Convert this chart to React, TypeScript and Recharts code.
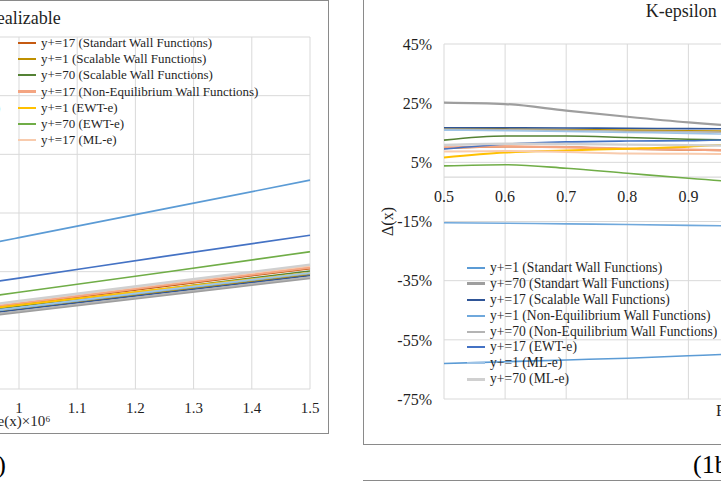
import { LineChart, Line, XAxis, YAxis, CartesianGrid, Legend, ReferenceLine } from 'recharts';

const FONT = '"Liberation Serif", "Times New Roman", serif';
const TXT = '#1f1f1f';
const GRID = '#d9d9d9';
const FRAME = '#8a8a8a';

// series, in legend order (row-major, 2 columns)
const seriesNames = [
  'y+=1 (Standart Wall Functions)',
  'y+=17 (Standart Wall Functions)',
  'y+=70 (Standart Wall Functions)',
  'y+=1 (Scalable Wall Functions)',
  'y+=17 (Scalable Wall Functions)',
  'y+=70 (Scalable Wall Functions)',
  'y+=1 (Non-Equilibrium Wall Functions)',
  'y+=17 (Non-Equilibrium Wall Functions)',
  'y+=70 (Non-Equilibrium Wall Functions)',
  'y+=1 (EWT-e)',
  'y+=17 (EWT-e)',
  'y+=70 (EWT-e)',
  'y+=1 (ML-e)',
  'y+=17 (ML-e)',
  'y+=70 (ML-e)',
];
const seriesColors = [
  '#5b9bd5', '#c55a11', '#9e9e9e',
  '#bf9000', '#2f5597', '#548235',
  '#6fa8dc', '#f4a582', '#b4b4b4',
  '#ffc000', '#4472c4', '#70ad47',
  '#9dc3e6', '#f8cbad', '#d0d0d0',
];
const seriesWidths = [1.6, 1.6, 2.2, 1.6, 1.6, 1.6, 1.6, 2.4, 1.6, 2.0, 1.6, 1.6, 1.6, 2.0, 2.4];

// left panel: Cf vs Re(x)
const cfX = [0.5, 0.75, 1.0, 1.25, 1.5];
const cfValues = [
  [1.6, 2.09, 2.58, 3.07, 3.56],
  [0.83, 1.14, 1.44, 1.75, 2.05],
  [0.73, 1.02, 1.31, 1.6, 1.89],
  [0.77, 1.07, 1.36, 1.66, 1.95],
  [0.77, 1.06, 1.35, 1.64, 1.93],
  [0.81, 1.11, 1.41, 1.71, 2.01],
  [0.79, 1.09, 1.38, 1.68, 1.97],
  [0.85, 1.16, 1.46, 1.77, 2.07],
  [0.75, 1.04, 1.33, 1.62, 1.91],
  [0.88, 1.16, 1.43, 1.71, 1.98],
  [1.16, 1.53, 1.89, 2.26, 2.62],
  [0.96, 1.3, 1.65, 1.99, 2.34],
  [0.8, 1.1, 1.39, 1.69, 1.98],
  [0.88, 1.19, 1.49, 1.8, 2.1],
  [0.88, 1.19, 1.5, 1.81, 2.12],
];
const cfXTicks = [0.5, 0.6, 0.7, 0.8, 0.9, 1, 1.1, 1.2, 1.3, 1.4, 1.5];
const cfYTicks = [0, 1, 2, 3, 4, 5, 6];

// right panel: deviation in %
const dX = [0.5, 0.6, 0.7, 0.8, 0.9, 1.0, 1.1, 1.2, 1.3, 1.4, 1.5];
const dValues = [
  [-63.0, -62.4, -61.8, -61.2, -60.4, -59.6, -58.9, -58.3, -57.8, -57.3, -56.9],
  [9.7, 10.3, 10.2, 9.5, 9.2, 8.9, 8.7, 8.5, 8.4, 8.3, 8.2],
  [25.2, 24.7, 22.5, 20.4, 18.5, 17.0, 15.8, 14.9, 14.2, 13.7, 13.3],
  [16.4, 16.3, 16.1, 15.9, 15.7, 15.4, 15.2, 15.0, 14.9, 14.8, 14.7],
  [16.7, 16.7, 16.6, 16.5, 16.4, 16.3, 16.2, 16.1, 16.0, 15.9, 15.9],
  [12.5, 13.9, 13.9, 13.4, 12.8, 12.4, 12.1, 11.9, 11.7, 11.6, 11.5],
  [-15.4, -15.6, -15.8, -16.0, -16.3, -16.6, -16.8, -17.0, -17.2, -17.3, -17.4],
  [10.0, 10.4, 10.1, 9.6, 9.3, 9.0, 8.8, 8.6, 8.5, 8.4, 8.3],
  [16.2, 16.0, 15.8, 15.5, 15.3, 15.1, 14.9, 14.7, 14.6, 14.5, 14.4],
  [6.6, 8.3, 9.0, 9.6, 10.3, 11.4, 12.0, 12.5, 12.9, 13.2, 13.4],
  [9.5, 11.1, 11.9, 12.2, 12.3, 12.8, 13.0, 13.2, 13.3, 13.4, 13.5],
  [3.8, 4.2, 3.0, 1.3, -0.4, -1.9, -3.0, -3.8, -4.4, -4.8, -5.1],
  [15.9, 15.7, 15.4, 15.1, 14.8, 14.4, 14.1, 13.9, 13.7, 13.6, 13.5],
  [8.7, 8.8, 8.5, 8.0, 7.9, 7.8, 7.7, 7.6, 7.5, 7.5, 7.4],
  [10.9, 11.3, 11.2, 11.0, 10.8, 10.6, 10.4, 10.3, 10.2, 10.1, 10.0],
];
const dYTicks = [-75, -55, -35, -15, 5, 25, 45];

const cfData = cfX.map((x, i) => {
  const row: any = { x };
  cfValues.forEach((s, k) => (row['s' + k] = s[i]));
  return row;
});
const dData = dX.map((x, i) => {
  const row: any = { x };
  dValues.forEach((s, k) => (row['s' + k] = s[i]));
  return row;
});

function TwoColLegend({ fontSize, colWidth, rowH }: { fontSize: number; colWidth: number; rowH: number }) {
  return (
    <div
      style={{
        display: 'grid',
        gridTemplateColumns: `${colWidth}px ${colWidth}px`,
        fontFamily: FONT,
        fontSize,
        color: TXT,
      }}
    >
      {seriesNames.map((n, i) => (
        <div key={n} style={{ display: 'flex', alignItems: 'center', height: rowH, whiteSpace: 'nowrap' }}>
          <span
            style={{
              display: 'inline-block',
              width: 18,
              height: seriesWidths[i] > 2 ? 3 : 2,
              background: seriesColors[i],
              marginRight: 5,
            }}
          />
          {n}
        </div>
      ))}
    </div>
  );
}

// right chart geometry
const R_TOP = 50;
const R_H = 450;
const R_XH = 45;
const zeroShift = ((R_H - R_TOP - R_XH) * (0 - dYTicks[0])) / (dYTicks[6] - dYTicks[0]);

function ZeroTick(props: any) {
  const { x, y, payload } = props;
  return (
    <text x={x} y={y - zeroShift} dy="0.71em" textAnchor="middle" fontSize={16} fontFamily={FONT} fill={TXT}>
      {payload.value}
    </text>
  );
}

export default function App() {
  return (
    <div style={{ position: 'fixed', left: 0, top: 0, width: 721, height: 481, overflow: 'hidden', background: '#fff' }}>
      {/* left panel */}
      <div style={{ position: 'absolute', left: -358, top: 0 }}>
        <LineChart width={686} height={433} data={cfData} margin={{ top: 37, right: 18, left: 0, bottom: 0 }}>
          <CartesianGrid stroke={GRID} />
          <XAxis
            dataKey="x"
            type="number"
            domain={[0.5, 1.5]}
            ticks={cfXTicks}
            axisLine={false}
            tickLine={false}
            tickSize={6}
            tickMargin={7}
            height={44}
            tick={{ fontSize: 15, fontFamily: FONT, fill: TXT }}
            label={{ value: 'Re(x)×10⁶', position: 'insideTop', offset: 26, fontSize: 15, fontFamily: FONT, fill: TXT }}
          />
          <YAxis
            type="number"
            domain={[0, 6]}
            ticks={cfYTicks}
            width={86}
            axisLine={false}
            tickLine={false}
            tick={{ fontSize: 15, fontFamily: FONT, fill: TXT }}
          />
          <Legend
            layout="horizontal"
            verticalAlign="middle"
            align="center"
            wrapperStyle={{ left: 118, top: 35, width: 516 }}
            content={() => <TwoColLegend fontSize={13} colWidth={258} rowH={16.2} />}
          />
          {cfValues.map((_, k) => (
            <Line
              key={k}
              type="monotone"
              dataKey={'s' + k}
              name={seriesNames[k]}
              stroke={seriesColors[k]}
              strokeWidth={seriesWidths[k]}
              dot={false}
              isAnimationActive={false}
            />
          ))}
        </LineChart>
      </div>
      <div style={{ position: 'absolute', left: -358, top: 0, width: 685, height: 432, border: `1px solid ${FRAME}`, pointerEvents: 'none' }} />
      <div style={{ position: 'absolute', left: -358, width: 686, top: 8, textAlign: 'center', fontFamily: FONT, fontSize: 18, color: TXT }}>
        K-epsilon Realizable
      </div>

      {/* right panel */}
      <div style={{ position: 'absolute', left: 363, top: -6 }}>
        <LineChart width={717} height={R_H} data={dData} margin={{ top: R_TOP, right: 25, left: 0, bottom: 0 }}>
          <CartesianGrid stroke={GRID} />
          <ReferenceLine y={0} stroke={GRID} strokeWidth={1.2} />
          <XAxis
            dataKey="x"
            type="number"
            domain={[0.5, 1.5]}
            ticks={dX}
            axisLine={false}
            tickLine={false}
            tickSize={6}
            tickMargin={8}
            height={R_XH}
            tick={<ZeroTick />}
            label={{ value: 'Re(x)×10⁶', position: 'insideTop', offset: 6, fontSize: 16, fontFamily: FONT, fill: TXT }}
          />
          <YAxis
            type="number"
            domain={[-75, 45]}
            ticks={dYTicks}
            width={81}
            axisLine={false}
            tickLine={false}
            tickSize={6}
            tickMargin={6}
            tickFormatter={(v: number) => v + '%'}
            tick={{ fontSize: 16, fontFamily: FONT, fill: TXT }}
            label={{
              value: 'Δ(x)',
              angle: -90,
              position: 'insideLeft',
              offset: 24,
              fontSize: 16,
              fontFamily: FONT,
              fill: TXT,
              style: { textAnchor: 'middle' },
            }}
          />
          <Legend
            layout="horizontal"
            verticalAlign="middle"
            align="center"
            wrapperStyle={{ left: 104, top: 266, width: 540 }}
            content={() => <TwoColLegend fontSize={13.6} colWidth={270} rowH={15.9} />}
          />
          {dValues.map((_, k) => (
            <Line
              key={k}
              type="monotone"
              dataKey={'s' + k}
              name={seriesNames[k]}
              stroke={seriesColors[k]}
              strokeWidth={seriesWidths[k]}
              dot={false}
              isAnimationActive={false}
            />
          ))}
        </LineChart>
      </div>
      <div style={{ position: 'absolute', left: 363, top: -6, width: 716, height: 449, border: `1px solid ${FRAME}`, pointerEvents: 'none' }} />
      <div style={{ position: 'absolute', left: 363, width: 717, top: 1, textAlign: 'center', fontFamily: FONT, fontSize: 18, color: TXT }}>
        K-epsilon Realizable
      </div>

      {/* captions */}
      <div style={{ position: 'absolute', left: -94, width: 100, top: 450, textAlign: 'right', fontFamily: FONT, fontSize: 26, lineHeight: '30px', color: '#000' }}>
        (1a)
      </div>
      <div style={{ position: 'absolute', left: 693, top: 450, fontFamily: FONT, fontSize: 26, lineHeight: '30px', color: '#000' }}>
        (1b)
      </div>
      <div style={{ position: 'absolute', left: 363, top: 480, width: 400, height: 0, borderTop: `1px solid ${FRAME}` }} />
    </div>
  );
}
